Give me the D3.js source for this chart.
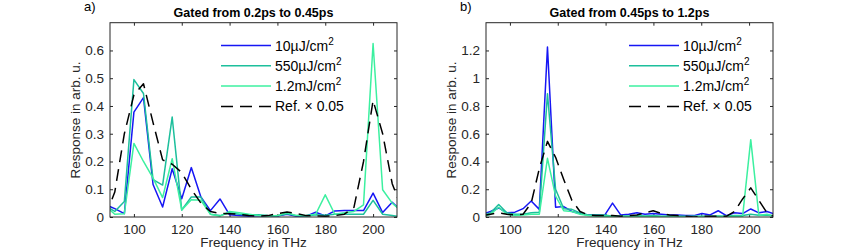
<!DOCTYPE html>
<html>
<head>
<meta charset="utf-8">
<script src="https://cdn.jsdelivr.net/npm/d3@7/dist/d3.min.js"></script>
<style>
  body { margin: 0; background: #fff; }
  svg { display: block; font-family: "Liberation Sans", Arial, sans-serif; }
  .tick text { fill: #262626; font-size: 13.5px; }
  .tick line { stroke: #262626; }
</style>
</head>
<body>
<div id="chart"></div>
<script>
const width = 852;
const height = 252;

// panel a: frequencies (THz), 4 THz steps
const freqA = [88, 92, 96, 100, 104, 108, 112, 116, 120, 124, 128, 132, 136, 140, 144, 148,
    152, 156, 160, 164, 168, 172, 176, 180, 184, 188, 192, 196, 200, 204, 208, 212];
const lowA = [0.045, 0.03, 0.012, 0.378, 0.43, 0.117, 0.036, 0.174, 0.066, 0.178, 0.072, 0.023,
    0.065, 0.008, 0.005, 0.003, 0.005, 0.002, 0.004, 0.01, 0.003, 0.003, 0.017, 0.004,
    0.022, 0.023, 0.023, 0.023, 0.086, 0.016, 0.053, 0.02];
const midA = [0.04, 0.02, 0.056, 0.495, 0.445, 0.135, 0.115, 0.36, 0.025, 0.072, 0.072, 0.01,
    0.005, 0.015, 0.01, 0.008, 0.008, 0.005, 0.004, 0.012, 0.005, 0.003, 0.008, 0.006,
    0.01, 0.01, 0.01, 0.01, 0.06, 0.01, 0.005, 0.0];
const highA = [0.04, 0.01, 0.012, 0.265, 0.2, 0.14, 0.07, 0.21, 0.025, 0.062, 0.06, 0.01,
    0.003, 0.02, 0.015, 0.01, 0.005, 0.003, 0.005, 0.015, 0.005, 0.005, 0.01, 0.08,
    0.01, 0.015, 0.02, 0.044, 0.625, 0.098, 0.05, 0.02];
const refA = [0.0, 0.09, 0.3, 0.44, 0.48, 0.34, 0.206, 0.19, 0.16, 0.1, 0.05, 0.02,
    0.013, 0.012, 0.01, 0.005, 0.003, 0.005, 0.012, 0.018, 0.012, 0.005, 0.004, 0.003,
    0.005, 0.01, 0.035, 0.2, 0.42, 0.3, 0.12, 0.03];

// panel b: frequencies (THz), ~3.4 THz steps
const freqB = [88.5, 91.9, 95.3, 98.7, 102.1, 105.5, 108.9, 112.3, 115.7, 119.1, 122.5, 125.9,
    129.3, 132.7, 136.1, 139.5, 142.9, 146.3, 149.7, 153.1, 156.5, 159.9, 163.3, 166.7,
    170.1, 173.5, 176.9, 180.3, 183.7, 187.1, 190.5, 193.9, 197.3, 200.7, 204.1, 207.5, 210.9];
const lowB = [0.02, 0.04, 0.065, 0.03, 0.035, 0.06, 0.115, 0.055, 1.225, 0.07, 0.075, 0.04,
    0.025, 0.015, 0.015, 0.01, 0.1, 0.015, 0.02, 0.03, 0.02, 0.025, 0.02, 0.015,
    0.015, 0.01, 0.01, 0.025, 0.015, 0.045, 0.01, 0.03, 0.025, 0.058, 0.03, 0.04, 0.02];
const midB = [0.01, 0.03, 0.09, 0.03, 0.02, 0.02, 0.03, 0.035, 0.888, 0.2, 0.06, 0.055,
    0.03, 0.015, 0.015, 0.015, 0.005, 0.008, 0.008, 0.01, 0.008, 0.01, 0.006, 0.005,
    0.005, 0.004, 0.005, 0.006, 0.006, 0.008, 0.005, 0.01, 0.01, 0.02, 0.012, 0.015, 0.005];
const highB = [0.0, 0.02, 0.07, 0.02, 0.01, 0.015, 0.02, 0.02, 0.423, 0.15, 0.045, 0.04,
    0.02, 0.01, 0.005, 0.005, 0.004, 0.004, 0.004, 0.005, 0.004, 0.003, 0.003, 0.003,
    0.003, 0.003, 0.003, 0.003, 0.003, 0.004, 0.004, 0.005, 0.005, 0.557, 0.01, 0.02, 0.005];
const refB = [0.01, 0.02, 0.03, 0.02, 0.015, 0.02, 0.1, 0.35, 0.545, 0.43, 0.27, 0.12,
    0.04, 0.015, 0.01, 0.01, 0.01, 0.005, 0.01, 0.015, 0.03, 0.045, 0.025, 0.015,
    0.01, 0.005, 0.0, 0.005, 0.005, 0.005, 0.005, 0.04, 0.13, 0.21, 0.12, 0.03, 0.0];

const xTicks = [100, 120, 140, 160, 180, 200];
const yTicksA = [0, 0.1, 0.2, 0.3, 0.4, 0.5, 0.6];
const yTicksB = [0, 0.2, 0.4, 0.6, 0.8, 1, 1.2];

const seriesNames = ["10\u00b5J/cm", "550\u00b5J/cm", "1.2mJ/cm", "Ref. \u00d7 0.05"];
const colors = ["#1616f4", "#1dbf9c", "#3cf0a0", "#000000"];

const svg = d3
    .select("#chart")
    .append("svg")
    .attr("width", width)
    .attr("height", height);

function drawPanel(opt) {
    const g = svg.append("g").attr("id", opt.id);
    const x = d3.scaleLinear().domain([90, 210]).range([opt.left, opt.left + 287]);
    const y = d3.scaleLinear().domain([0, opt.yMax]).range([217, 22.7]);

    const clipId = "clip-" + opt.id;
    g.append("clipPath")
        .attr("id", clipId)
        .append("rect")
        .attr("x", x.range()[0])
        .attr("y", y.range()[1])
        .attr("width", x.range()[1] - x.range()[0])
        .attr("height", y.range()[0] - y.range()[1]);

    const fmt = d3.format("~g");
    const xAxis = d3.axisBottom(x).tickValues(xTicks).tickSize(-3).tickPadding(7).tickFormat(fmt);
    const xAxisTop = d3.axisTop(x).tickValues(xTicks).tickSize(-3).tickFormat("");
    const yAxis = d3.axisLeft(y).tickValues(opt.yTicks).tickSize(-3).tickPadding(6).tickFormat(fmt);
    const yAxisRight = d3.axisRight(y).tickValues(opt.yTicks).tickSize(-3).tickFormat("");

    const axes = [
        [xAxis, `translate(0,${y.range()[0]})`],
        [xAxisTop, `translate(0,${y.range()[1]})`],
        [yAxis, `translate(${x.range()[0]},0)`],
        [yAxisRight, `translate(${x.range()[1]},0)`],
    ];
    axes.forEach(([ax, tr]) => {
        const a = g.append("g").attr("transform", tr).call(ax);
        a.select(".domain").remove();
        a.selectAll("text").attr("font-family", null).attr("font-size", null);
    });

    const lines = g.append("g").attr("clip-path", `url(#${clipId})`);
    const line = d3.line()
        .x((d) => x(d[0]))
        .y((d) => y(d[1]));

    opt.series.forEach((vals, i) => {
        const pts = opt.freq.map((f, j) => [f, vals[j]]);
        lines.append("path")
            .attr("d", line(pts))
            .attr("fill", "none")
            .attr("stroke", colors[i])
            .attr("stroke-width", 1.5)
            .attr("stroke-linejoin", "round")
            .attr("stroke-dasharray", i === 3 ? "12,7" : null);
    });

    // box
    g.append("rect")
        .attr("x", x.range()[0])
        .attr("y", y.range()[1])
        .attr("width", x.range()[1] - x.range()[0])
        .attr("height", y.range()[0] - y.range()[1])
        .attr("fill", "none")
        .attr("stroke", "#262626")
        .attr("stroke-width", 1);

    // legend
    const lg = g.append("g");
    seriesNames.forEach((name, i) => {
        const ly = 45.5 + i * 20.3;
        const lx = x.range()[0] + opt.legendDx;
        lg.append("line")
            .attr("x1", lx)
            .attr("x2", lx + 50)
            .attr("y1", ly)
            .attr("y2", ly)
            .attr("stroke", colors[i])
            .attr("stroke-width", 1.5)
            .attr("stroke-dasharray", i === 3 ? "12,7" : null);
        const t = lg.append("text")
            .attr("x", lx + 54)
            .attr("y", ly + 5)
            .attr("font-size", "14px")
            .attr("fill", "#000")
            .text(name);
        if (i < 3) {
            t.append("tspan")
                .attr("dy", -6)
                .attr("font-size", "10px")
                .text("2");
        }
    });

    const cx = (x.range()[0] + x.range()[1]) / 2;
    g.append("text")
        .attr("x", cx)
        .attr("y", 17)
        .attr("text-anchor", "middle")
        .attr("font-size", "12.5px")
        .attr("font-weight", "bold")
        .attr("fill", "#000")
        .text(opt.title);

    g.append("text")
        .attr("x", cx)
        .attr("y", 247)
        .attr("text-anchor", "middle")
        .attr("font-size", "13.5px")
        .attr("fill", "#262626")
        .text("Frequency in THz");

    g.append("text")
        .attr("transform", `translate(${x.range()[0] - 30},120) rotate(-90)`)
        .attr("text-anchor", "middle")
        .attr("font-size", "13.5px")
        .attr("fill", "#262626")
        .text("Response in arb. u.");

    g.append("text")
        .attr("x", x.range()[0] - 26)
        .attr("y", 11)
        .attr("font-size", "13px")
        .attr("fill", "#000")
        .text(opt.label);
}

drawPanel({
    id: "panelA", left: 110, yMax: 0.7, yTicks: yTicksA, freq: freqA,
    series: [lowA, midA, highA, refA], title: "Gated from 0.2ps to 0.45ps", label: "a)",
    legendDx: 111,
});
drawPanel({
    id: "panelB", left: 486, yMax: 1.4, yTicks: yTicksB, freq: freqB,
    series: [lowB, midB, highB, refB], title: "Gated from 0.45ps to 1.2ps", label: "b)",
    legendDx: 143,
});
</script>
</body>
</html>
